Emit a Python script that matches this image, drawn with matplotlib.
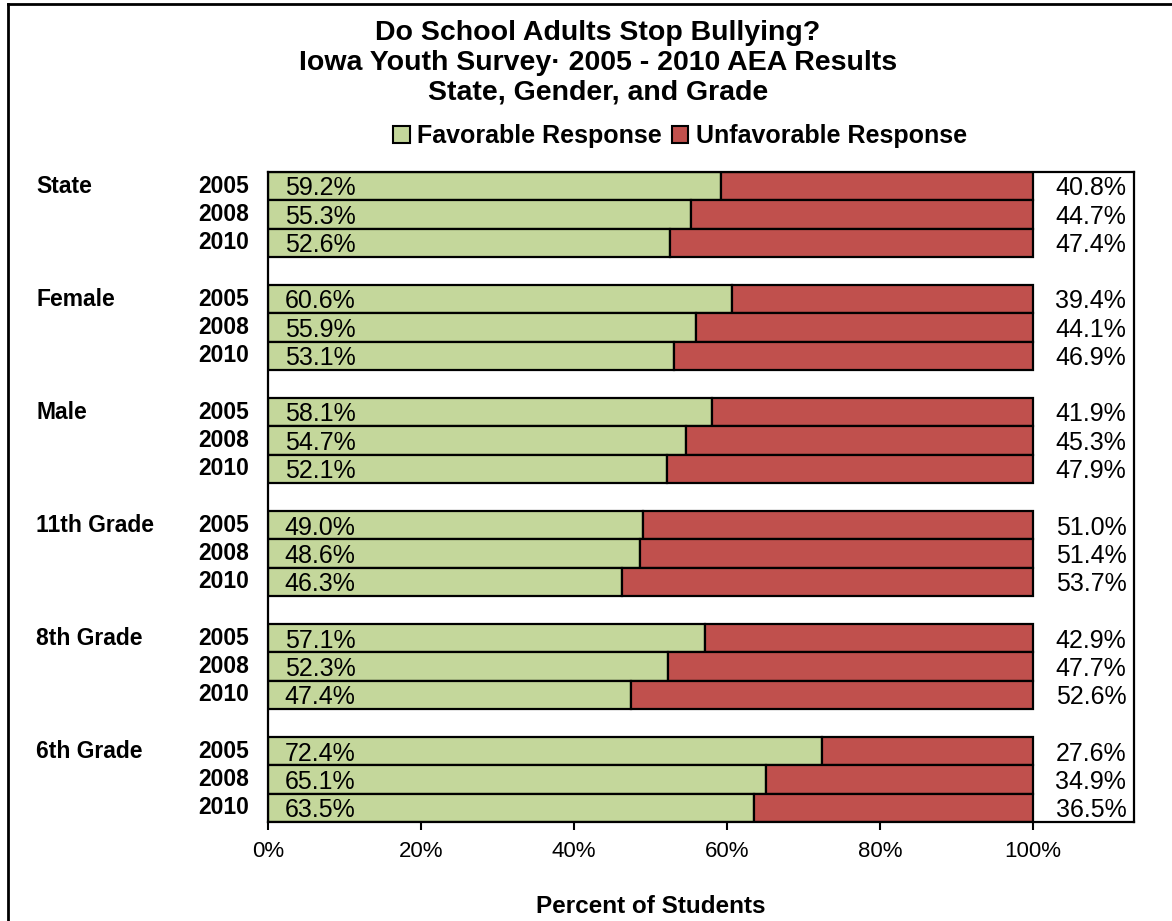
import numpy as np
import matplotlib
matplotlib.use('Agg')
import matplotlib.pyplot as plt
from matplotlib.patches import Patch
from matplotlib.lines import Line2D

plt.rcParams['font.family'] = ['Liberation Sans', 'DejaVu Sans']

groups = ['State', 'Female', 'Male', '11th Grade', '8th Grade', '6th Grade']
years = ['2005', '2008', '2010']
favorable = [[59.2, 55.3, 52.6],
             [60.6, 55.9, 53.1],
             [58.1, 54.7, 52.1],
             [49.0, 48.6, 46.3],
             [57.1, 52.3, 47.4],
             [72.4, 65.1, 63.5]]
unfavorable = [[40.8, 44.7, 47.4],
               [39.4, 44.1, 46.9],
               [41.9, 45.3, 47.9],
               [51.0, 51.4, 53.7],
               [42.9, 47.7, 52.6],
               [27.6, 34.9, 36.5]]

green = '#C4D79B'
red = '#C0504D'

W, H = 1172, 921
fig = plt.figure(figsize=(W / 100, H / 100), dpi=100)
ax = fig.add_axes([268 / W, (H - 822) / H, (1134 - 268) / W, (822 - 172) / H])

xmax = (1134 - 268) / (1033 - 268)
for g in range(len(groups)):
    for k in range(len(years)):
        y = g * 4 + k
        f = favorable[g][k] / 100
        u = unfavorable[g][k] / 100
        ax.barh(y, f, height=1.0, color=green, edgecolor='black', linewidth=1.6)
        ax.barh(y, u, left=f, height=1.0, color=red, edgecolor='black', linewidth=1.6)
        ax.text(0.022, y + 0.08, f'{favorable[g][k]:.1f}%', ha='left', va='center', fontsize=18)
        ax.text(xmax - 0.01, y + 0.08, f'{unfavorable[g][k]:.1f}%', ha='right', va='center', fontsize=18)
        ax.text(-0.025, y, years[k], ha='right', va='center', fontsize=16.5, fontweight='bold')
    ax.text(-0.303, g * 4, groups[g], ha='left', va='center', fontsize=16.5, fontweight='bold')

ax.set_xlim(0, xmax)
ax.set_ylim(len(groups) * 4 - 1.5, -0.5)
ax.set_xticks(np.arange(0, 1.01, 0.2))
ax.set_xticklabels([f'{int(round(v * 100))}%' for v in np.arange(0, 1.01, 0.2)], fontsize=16)
ax.set_yticks([])
ax.tick_params(axis='x', direction='out', length=6, width=1.5, pad=8)
for s in ax.spines.values():
    s.set_linewidth(1.6)

fig.text(651 / W, 1 - 906 / H, 'Percent of Students', ha='center', va='center',
         fontsize=17.5, fontweight='bold')

fig.text(598 / W, 1 - 63 / H, 'Do School Adults Stop Bullying?\nIowa Youth Survey\u00b7 2005 - 2010 AEA Results\nState, Gender, and Grade',
         ha='center', va='center', fontsize=20.5, fontweight='bold', linespacing=1.2)

handles = [Patch(facecolor=green, edgecolor='black', linewidth=1.5, label='Favorable Response'),
           Patch(facecolor=red, edgecolor='black', linewidth=1.5, label='Unfavorable Response')]
fig.legend(handles=handles, loc='center', bbox_to_anchor=(680 / W, 1 - 136 / H), ncol=2,
           frameon=False, prop={'size': 18, 'weight': 'bold'}, handlelength=0.65,
           handleheight=0.65, handletextpad=0.3, columnspacing=0.4)

fig.add_artist(Line2D([8 / W, 1], [1 - 4 / H, 1 - 4 / H], color='black', linewidth=2, transform=fig.transFigure))
fig.add_artist(Line2D([8 / W, 8 / W], [0, 1 - 4 / H], color='black', linewidth=2, transform=fig.transFigure))

fig.savefig('out.png', dpi=100)
